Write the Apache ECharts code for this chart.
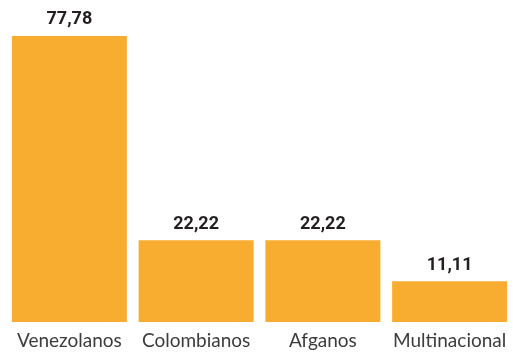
<!DOCTYPE html>
<html>
<head>
<meta charset="utf-8">
<script src="https://cdn.jsdelivr.net/npm/echarts@6/dist/echarts.min.js"></script>
<style>
  html, body { margin: 0; padding: 0; background: #ffffff; }
  #chart { width: 513px; height: 355px; }
</style>
</head>
<body>
<div id="chart"></div>
<script>
// Nationality groups and their shares
const categories = ['Venezolanos', 'Colombianos', 'Afganos', 'Multinacional'];
const values = [77.78, 22.22, 22.22, 11.11];

const chart = echarts.init(document.getElementById('chart'), null, { renderer: 'canvas' });

chart.setOption({
  animation: false,
  grid: { left: 6, width: 509, top: 27.8, bottom: 33 },
  xAxis: {
    type: 'category',
    data: categories,
    axisLine: { show: false },
    axisTick: { show: false },
    axisLabel: {
      interval: 0,
      fontFamily: 'Lato',
      fontSize: 19,
      color: '#3c3c3c',
      margin: 9
    }
  },
  yAxis: { type: 'value', min: 0, max: 80, show: false },
  series: [{
    type: 'bar',
    data: values,
    barWidth: 115,
    itemStyle: { color: '#F8AD31' },
    label: {
      show: true,
      position: 'top',
      distance: 7,
      fontFamily: 'Roboto',
      fontWeight: 'bold',
      fontSize: 18,
      color: '#231F20',
      formatter: p => p.value.toFixed(2).replace('.', ',')
    }
  }]
});
</script>
</body>
</html>
